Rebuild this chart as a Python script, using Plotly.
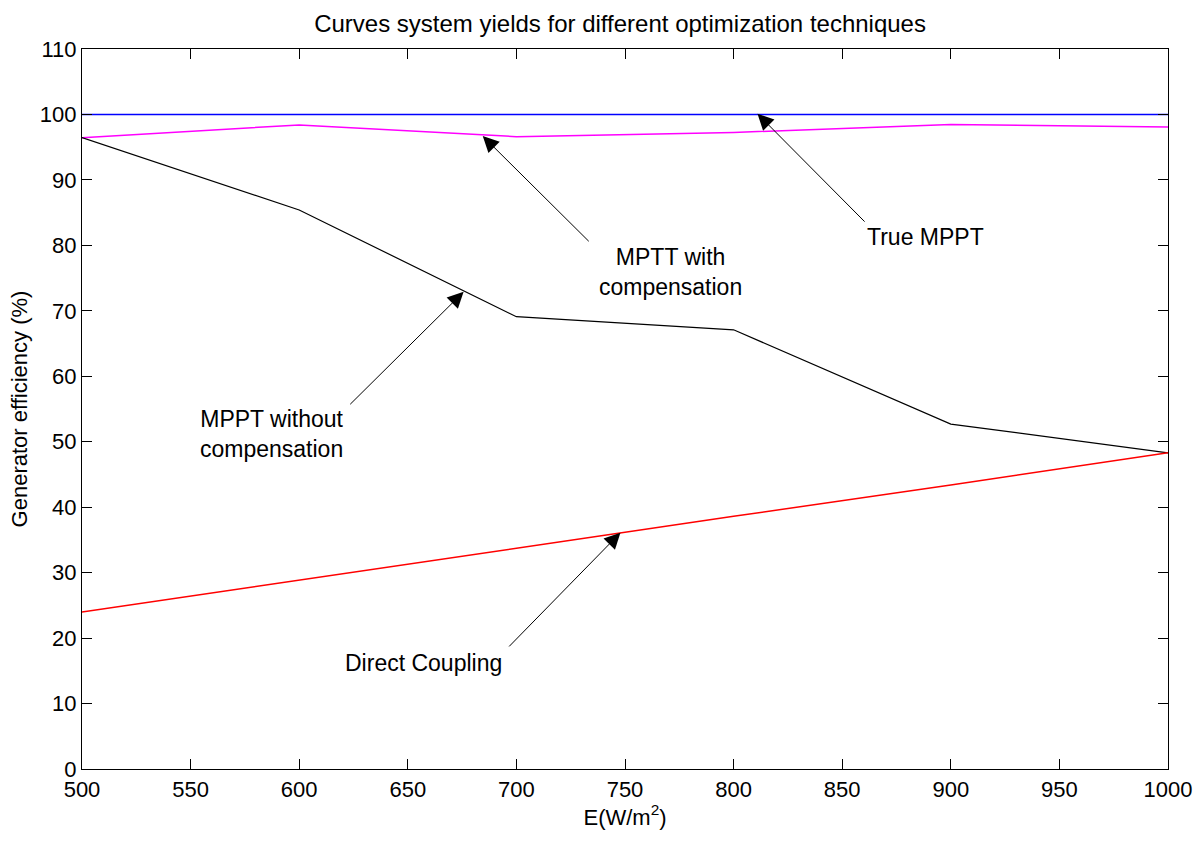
import plotly.graph_objects as go

E = [500, 600, 700, 800, 900, 1000]
true_mppt = [100, 100, 100, 100, 100, 100]
mptt_with_comp = [96.45, 98.4, 96.6, 97.25, 98.45, 98.1]
mppt_without_comp = [96.45, 85.4, 69.1, 67.1, 52.7, 48.3]
direct_coupling = [24.0, 28.9, 33.7, 38.6, 43.4, 48.3]

x_ticks = [500, 550, 600, 650, 700, 750, 800, 850, 900, 950, 1000]
y_ticks = [0, 10, 20, 30, 40, 50, 60, 70, 80, 90, 100, 110]

FONT = "Liberation Sans, Arial, sans-serif"

fig = go.Figure()
fig.add_trace(go.Scatter(x=E, y=true_mppt, mode="lines", line=dict(color="#0000ff", width=1.5), name="True MPPT"))
fig.add_trace(go.Scatter(x=E, y=mptt_with_comp, mode="lines", line=dict(color="#ff00ff", width=1.5), name="MPTT with compensation"))
fig.add_trace(go.Scatter(x=E, y=mppt_without_comp, mode="lines", line=dict(color="#000000", width=1.2), name="MPPT without compensation"))
fig.add_trace(go.Scatter(x=E, y=direct_coupling, mode="lines", line=dict(color="#ff0000", width=1.5), name="Direct Coupling"))

# arrows: (head_x, head_y, tail_x, tail_y)
arrows = [
    (811, 100.1, 861, 83.4),
    (684.5, 96.7, 734, 80.4),
    (675.7, 72.9, 622.8, 55.5),
    (747.9, 36.1, 696, 18.5),
]
for hx, hy, tx, ty in arrows:
    fig.add_annotation(x=hx, y=hy, ax=tx, ay=ty, xref="x", yref="y", axref="x", ayref="y",
                       text="", showarrow=True, arrowhead=2, arrowsize=3.2, arrowwidth=1.0,
                       arrowcolor="#000000", standoff=0, startstandoff=0)

labels = [
    (925, 237, "True MPPT"),
    (670, 272, "MPTT with<br>compensation"),
    (271, 434, "MPPT without<br>compensation"),
    (423, 663, "Direct Coupling"),
]
for px, py, txt in labels:
    fig.add_annotation(x=500 + (px - 81) / 2.174, y=(769 - py) / 6.545, xref="x", yref="y",
                       text=txt, showarrow=False, align="center",
                       font=dict(family=FONT, size=23, color="#000000"))

fig.update_layout(
    width=1204, height=843,
    margin=dict(l=82, r=36, t=49, b=74),
    paper_bgcolor="#ffffff", plot_bgcolor="#ffffff",
    showlegend=False,
    title=dict(text="Curves system yields for different optimization techniques",
               x=0.515, xanchor="center", y=0.972, yanchor="middle",
               font=dict(family=FONT, size=24, color="#000000")),
    font=dict(family=FONT, size=22, color="#000000"),
)
fig.update_xaxes(range=[500, 1000], tickvals=x_ticks, ticks="inside", ticklen=10, tickcolor="#000",
                 showline=True, linecolor="#000", linewidth=1.2, mirror="ticks", showgrid=False, zeroline=False,
                 tickfont=dict(family=FONT, size=22), title=dict(text="E(W/m<sup>2</sup>)", font=dict(family=FONT, size=22), standoff=8))
fig.update_yaxes(range=[0, 110], tickvals=y_ticks, ticks="inside", ticklen=10, tickcolor="#000",
                 showline=True, linecolor="#000", linewidth=1.2, mirror="ticks", showgrid=False, zeroline=False,
                 tickfont=dict(family=FONT, size=22), title=dict(text="Generator efficiency (%)", font=dict(family=FONT, size=22), standoff=6))

fig.write_html("out.html")
